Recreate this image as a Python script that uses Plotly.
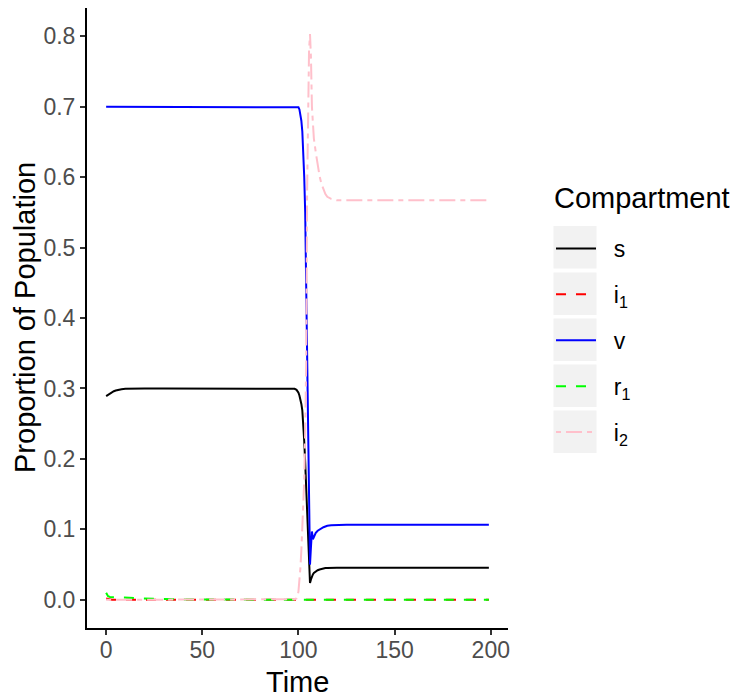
import plotly.graph_objects as go

# ---------------- data ----------------
time = [0, 1, 2, 3, 4, 5, 6, 8, 10, 12, 15, 20, 30, 40, 50, 60, 70, 80, 90,
        95, 97, 98, 99, 99.5,
        100, 100.5, 101, 101.5, 102, 102.5, 103, 103.5, 104, 104.5,
        105, 105.5, 106, 106.5, 107, 107.5, 108,
        109, 110, 111, 112, 113, 114, 115,
        117, 120, 125, 130, 140, 150, 160, 170, 180, 190, 199]

s_vals = [0.289, 0.291, 0.293, 0.2945, 0.296, 0.297, 0.298, 0.299, 0.2995, 0.2998, 0.300, 0.300,
          0.300, 0.300, 0.300, 0.300, 0.300, 0.300, 0.300,
          0.300, 0.2998, 0.2995, 0.298, 0.2965,
          0.294, 0.290, 0.285, 0.278, 0.269, 0.250, 0.225, 0.195, 0.160, 0.125,
          0.090, 0.055, 0.024, 0.029, 0.034, 0.036, 0.038,
          0.0405, 0.042, 0.043, 0.044, 0.0445, 0.045, 0.0452,
          0.0455, 0.0455, 0.0455, 0.0455, 0.0455, 0.0455, 0.0455, 0.0455, 0.0455, 0.0455, 0.0455]

i1_vals = [0.002, 0.001, 0.0005] + [0.0] * 56

v_vals = [0.700] * 20 + [0.700, 0.700, 0.700, 0.700,
          0.699, 0.696, 0.690, 0.680, 0.665, 0.640, 0.600, 0.550, 0.440, 0.310,
          0.200, 0.110, 0.050, 0.075, 0.097, 0.086, 0.090,
          0.095, 0.098, 0.100, 0.102, 0.103, 0.104, 0.105,
          0.1058, 0.1063, 0.1065, 0.1065, 0.1065, 0.1065, 0.1065, 0.1065, 0.1065, 0.1065, 0.1065]

r1_vals = [0.010, 0.005, 0.004, 0.004, 0.004, 0.004, 0.004, 0.0038, 0.0035, 0.003, 0.0025, 0.0018,
           0.001, 0.0005, 0.0003, 0.0002, 0.0001, 0.0, 0.0] + [0.0] * 40

i2_vals = [0.0] * 20 + [0.0003, 0.0008, 0.002, 0.005,
           0.012, 0.025, 0.045, 0.070, 0.100, 0.135, 0.170, 0.240, 0.330, 0.580,
           0.700, 0.780, 0.803, 0.770, 0.700, 0.672, 0.655,
           0.635, 0.615, 0.601, 0.590, 0.582, 0.576, 0.572,
           0.569, 0.567, 0.567, 0.567, 0.567, 0.567, 0.567, 0.567, 0.567, 0.567, 0.567]

series_names = ["s", "i<sub>1</sub>", "v", "r<sub>1</sub>", "i<sub>2</sub>"]
series_values = [s_vals, i1_vals, v_vals, r1_vals, i2_vals]
series_colors = ["#000000", "#FF0000", "#0000FF", "#00FF00", "#FFC0CB"]
series_dash = ["solid", "10px,10px", "solid", "10px,10px", "5px,5px,16px,5px"]

x_ticks = [0, 50, 100, 150, 200]
y_ticks = [0.0, 0.1, 0.2, 0.3, 0.4, 0.5, 0.6, 0.7, 0.8]

legend_title = "Compartment"
x_title = "Time"
y_title = "Proportion of Population"

# ---------------- figure ----------------
FONT = "Liberation Sans, Arial, sans-serif"
W, H = 736, 697
ML, MR, MT, MB = 87, 228, 8, 69
PW, PH = W - ML - MR, H - MT - MB


def px_x(px):
    return (px - ML) / PW


def px_y(py):
    return (H - MB - py) / PH


fig = go.Figure()
for k, (name, vals, col, dash) in enumerate(zip(series_names, series_values, series_colors, series_dash)):
    fig.add_trace(go.Scatter(
        x=time, y=vals, mode="lines", name="\u00a0\u00a0" + name,
        legendgroup=f"g{k}",
        line=dict(color=col, width=2, dash=dash),
    ))

# grey legend key backgrounds (ggplot style)
key_tops = [226, 272.5, 318.5, 364.5, 410.5]
shapes = []
for top in key_tops:
    shapes.append(dict(
        type="rect", xref="paper", yref="paper",
        x0=px_x(553.5), x1=px_x(596.5),
        y0=px_y(top + 42.5), y1=px_y(top),
        fillcolor="#F2F2F2", line=dict(width=0), layer="below",
    ))

annotations = [
    dict(text=legend_title, xref="paper", yref="paper", x=px_x(552), y=px_y(198),
         xanchor="left", yanchor="middle", showarrow=False,
         font=dict(size=29, family=FONT, color="#000000")),
    dict(text=x_title, xref="paper", yref="paper", x=0.5, y=px_y(682),
         xanchor="center", yanchor="middle", showarrow=False,
         font=dict(size=29, family=FONT, color="#000000")),
    dict(text=y_title, xref="paper", yref="paper", x=px_x(25), y=0.5,
         xanchor="center", yanchor="middle", showarrow=False, textangle=-90,
         font=dict(size=29, family=FONT, color="#000000")),
]

fig.update_layout(
    width=W, height=H,
    margin=dict(l=ML, r=MR, t=MT, b=MB, pad=0, autoexpand=False),
    paper_bgcolor="white", plot_bgcolor="white",
    font=dict(family=FONT, color="#000000"),
    shapes=shapes,
    annotations=annotations,
    showlegend=True,
    legend=dict(
        x=px_x(551), xanchor="left",
        y=px_y(227), yanchor="top",
        bgcolor="rgba(0,0,0,0)",
        font=dict(size=23, family=FONT, color="#000000"),
        traceorder="grouped",
        tracegroupgap=13,
        itemwidth=40,
    ),
    xaxis=dict(
        range=[-9.95, 208.95], tickvals=x_ticks, ticktext=[str(v) for v in x_ticks],
        showline=True, linecolor="#000000", linewidth=2,
        ticks="outside", ticklen=5, tickwidth=2, tickcolor="#333333",
        tickfont=dict(size=23, family=FONT, color="#4D4D4D"),
        ticklabelstandoff=-5,
        showgrid=False, zeroline=False,
    ),
    yaxis=dict(
        range=[-0.04, 0.84], tickvals=y_ticks, ticktext=[f"{v:.1f}" for v in y_ticks],
        showline=True, linecolor="#000000", linewidth=2,
        ticks="outside", ticklen=5, tickwidth=2, tickcolor="#333333",
        tickfont=dict(size=23, family=FONT, color="#4D4D4D"),
        showgrid=False, zeroline=False,
    ),
)

fig.write_html("out.html",
               config={"displayModeBar": False},
               post_script="document.body.style.margin='0px';document.body.style.overflow='hidden';")
